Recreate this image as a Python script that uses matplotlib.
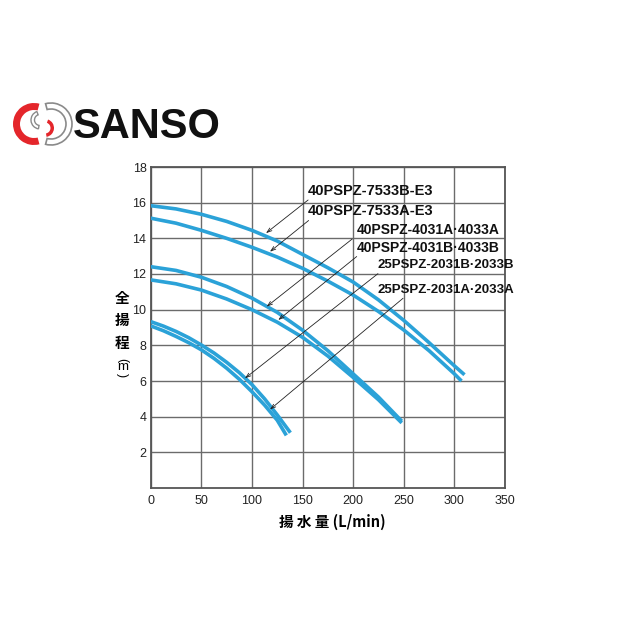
import matplotlib.pyplot as plt
from matplotlib.patches import Wedge

# pump curves (flow L/min, head m)
q_7533b = [0, 25, 50, 75, 100, 125, 150, 175, 200, 225, 250, 275, 300, 310]
h_7533b = [15.83, 15.65, 15.35, 14.95, 14.45, 13.85, 13.1, 12.35, 11.55, 10.55, 9.4, 8.15, 6.85, 6.35]
q_7533a = [0, 25, 50, 75, 100, 125, 150, 175, 200, 225, 250, 275, 300, 307]
h_7533a = [15.13, 14.85, 14.45, 14.0, 13.5, 12.95, 12.32, 11.6, 10.82, 9.9, 8.86, 7.7, 6.4, 6.0]
q_4031a = [0, 25, 50, 75, 100, 125, 150, 175, 200, 225, 248]
h_4031a = [12.41, 12.2, 11.82, 11.3, 10.65, 9.85, 8.85, 7.7, 6.4, 5.1, 3.75]
q_4031b = [0, 25, 50, 75, 100, 125, 150, 175, 200, 225, 248]
h_4031b = [11.67, 11.45, 11.1, 10.6, 10.0, 9.3, 8.45, 7.4, 6.2, 4.95, 3.65]
q_2031b = [0, 12.5, 25, 37.5, 50, 62.5, 75, 87.5, 100, 112.5, 125, 138]
h_2031b = [9.33, 9.08, 8.78, 8.43, 8.02, 7.57, 7.05, 6.47, 5.8, 5.0, 4.1, 3.1]
q_2031a = [0, 12.5, 25, 37.5, 50, 62.5, 75, 87.5, 100, 112.5, 125, 134]
h_2031a = [9.09, 8.82, 8.5, 8.15, 7.75, 7.27, 6.72, 6.1, 5.4, 4.65, 3.8, 2.95]

model_names = ["40PSPZ-7533B-E3", "40PSPZ-7533A-E3", "40PSPZ-4031A\u00b74033A",
               "40PSPZ-4031B\u00b74033B", "25PSPZ-2031B\u00b72033B", "25PSPZ-2031A\u00b72033A"]

x_ticks = [0, 50, 100, 150, 200, 250, 300, 350]
y_ticks = [2, 4, 6, 8, 10, 12, 14, 16, 18]

# label placement (data coords): text anchor, leader start, leader tip
label_pos = [(155.4, 16.66), (155.4, 15.54), (203.6, 14.47), (203.6, 13.46), (224.4, 12.51), (224.4, 11.1)]
leader_start = [(155.5, 16.15), (156.0, 15.0), (199.0, 13.96), (203.5, 12.98), (224.5, 12.02), (249.3, 10.64)]
leader_tip = [(113.9, 14.29), (117.8, 13.25), (114.5, 10.17), (126.0, 9.42), (93.1, 6.15), (117.8, 4.4)]
label_size = [10.5, 10.5, 10, 10, 9.5, 9.5]

curve_color = "#2ba2d8"
grid_color = "#6b6b6b"

plt.rcParams['font.family'] = ['Liberation Sans', 'DejaVu Sans']
cjk = ['Noto Sans CJK JP', 'DejaVu Sans']

fig = plt.figure(figsize=(6.4, 6.4), dpi=100)
fig.patch.set_facecolor("white")

# logo layer in pixel-like coords
lax = fig.add_axes([0, 0, 1, 1])
lax.set_xlim(0, 640)
lax.set_ylim(0, 640)
lax.axis("off")
lax.add_patch(Wedge((51, 516), 21, -105, 105, width=6, facecolor="white", edgecolor="#8a8a8a", lw=1.2))
lax.add_patch(Wedge((34, 516), 21, 75, 285, width=7, facecolor="#e4262b", edgecolor="none"))
lax.add_patch(Wedge((45, 512), 9, -80, 70, width=3.5, facecolor="#e4262b", edgecolor="none"))
lax.add_patch(Wedge((40, 520), 9, 110, 260, width=3.5, facecolor="white", edgecolor="#8a8a8a", lw=1.0))
fig.text(73 / 640, 1 - 127 / 640, "SANSO", fontsize=30, fontweight="bold",
         va="center", ha="left", color="#111")

ax = fig.add_axes([150.7 / 640, 1 - 488 / 640, (505 - 150.7) / 640, (488 - 167) / 640])

curves = [(q_7533b, h_7533b), (q_7533a, h_7533a), (q_4031a, h_4031a),
          (q_4031b, h_4031b), (q_2031b, h_2031b), (q_2031a, h_2031a)]
for q, h in curves:
    ax.plot(q, h, color=curve_color, lw=2.6, solid_capstyle="butt", solid_joinstyle="round", zorder=3)

ax.set_xlim(0, 350)
ax.set_ylim(0, 18)
ax.set_xticks(x_ticks)
ax.set_yticks(y_ticks)
ax.grid(True, color=grid_color, lw=1.0)
ax.set_axisbelow(True)
ax.tick_params(length=0, labelsize=9, colors="#222")
ax.tick_params(axis="x", pad=5)
ax.tick_params(axis="y", pad=3)
for sp in ax.spines.values():
    sp.set_color("#555")
    sp.set_linewidth(1.3)

# model labels with leader lines
for i, name in enumerate(model_names):
    ax.text(label_pos[i][0], label_pos[i][1], name, fontsize=label_size[i], fontweight="bold",
            va="center", ha="left", color="#111", zorder=5)
    ax.annotate("", xy=leader_tip[i], xytext=leader_start[i],
                arrowprops=dict(arrowstyle="->,head_length=0.35,head_width=0.12",
                                lw=0.6, color="#222", shrinkA=0, shrinkB=0), zorder=4)

# vertical y label
for ch, yy in zip(["全", "揚", "程"], [10.66, 9.42, 8.13]):
    ax.text(-28, yy, ch, fontsize=10.5, fontweight="bold", family=cjk,
            ha="center", va="center", clip_on=False)
ax.text(-28, 7.2, "(", fontsize=9, rotation=-90, ha="center", va="center", clip_on=False)
ax.text(-28, 6.79, "m", fontsize=9.5, ha="center", va="center", clip_on=False)
ax.text(-28, 6.36, ")", fontsize=9, rotation=-90, ha="center", va="center", clip_on=False)

ax.text(179, -1.9, "揚 水 量 (L/min)", fontsize=10.5, fontweight="bold", family=cjk,
        ha="center", va="center", clip_on=False)

fig.savefig("out.png", dpi=100, facecolor="white")
